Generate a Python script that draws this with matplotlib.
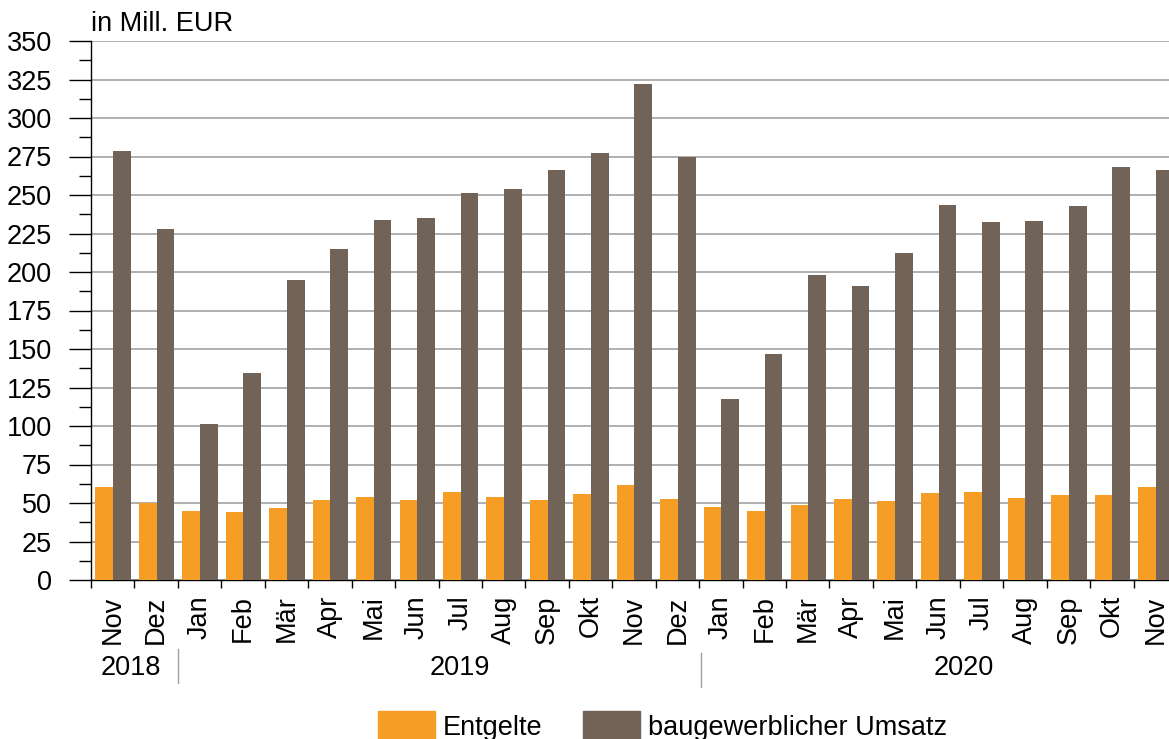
import matplotlib
matplotlib.use("Agg")
import matplotlib.pyplot as plt
from matplotlib.patches import Patch
import numpy as np

plt.rcParams['font.family'] = ['Liberation Sans', 'DejaVu Sans']

months = ["Nov", "Dez", "Jan", "Feb", "Mär", "Apr", "Mai", "Jun", "Jul", "Aug", "Sep", "Okt",
          "Nov", "Dez", "Jan", "Feb", "Mär", "Apr", "Mai", "Jun", "Jul", "Aug", "Sep", "Okt", "Nov"]
entgelte = [60.6, 50.0, 45.0, 44.4, 47.0, 52.0, 54.0, 52.0, 57.3, 54.0, 52.0, 56.0,
            61.9, 52.8, 47.6, 45.0, 49.0, 52.8, 51.5, 56.7, 57.3, 53.4, 55.4, 55.4, 60.6]
umsatz = [278.5, 228.0, 101.5, 134.5, 195.0, 215.0, 234.0, 235.0, 251.0, 254.0, 266.5, 277.0,
          322.0, 275.0, 117.5, 147.0, 198.0, 191.0, 212.5, 243.5, 232.5, 233.0, 243.0, 268.0, 266.5]
years = ["2018", "2019", "2020"]
year_pos = [0.42, 7.99, 19.59]
year_breaks = [1.5, 13.55]

c_orange = "#F59D24"
c_brown = "#716357"
FS = 19.5

fig = plt.figure(figsize=(11.69, 7.39), dpi=100)
ax = fig.add_axes([91/1169, 159/739, 1086/1169, 539/739])

x = np.arange(len(months))
w = 0.407
ax.bar(x - w/2 + 0.01, entgelte, width=w, color=c_orange, zorder=3, label="Entgelte")
ax.bar(x + w/2 + 0.01, umsatz, width=w, color=c_brown, zorder=3, label="baugewerblicher Umsatz")

ax.set_xlim(-0.5, len(months) - 0.5)
ax.set_ylim(0, 350)

# y axis
ax.set_yticks(np.arange(0, 351, 25))
ax.set_yticks(np.arange(12.5, 350, 25), minor=True)
ax.tick_params(axis='y', which='major', length=16, width=1, labelsize=FS, pad=12, color='black')
ax.tick_params(axis='y', which='minor', length=8.6, width=1, color='black')
ax.grid(axis='y', which='major', color='#9a9a9a', linewidth=1.1, zorder=0)

# x axis: ticks at boundaries, labels at centers
ax.set_xticks(np.arange(-0.5, len(months), 1.0))
ax.set_xticklabels([])
ax.set_xticks(x, minor=True)
ax.set_xticklabels(months, minor=True, rotation=90, fontsize=FS)
ax.tick_params(axis='x', which='major', length=6, width=1, direction='out', color='black')
ax.tick_params(axis='x', which='minor', length=0, pad=11)

for s in ['top', 'right']:
    ax.spines[s].set_visible(False)
ax.spines['left'].set_linewidth(1)
ax.spines['bottom'].set_linewidth(1)

# year labels
trans = ax.get_xaxis_transform()
for yl, yp in zip(years, year_pos):
    ax.text(yp, -0.163, yl, transform=trans, ha='center', va='center', fontsize=FS)
ax.plot([year_breaks[0]] * 2, [-0.128, -0.191], transform=trans, color='#a0a0a0', lw=1, clip_on=False)
ax.plot([year_breaks[1]] * 2, [-0.135, -0.198], transform=trans, color='#a0a0a0', lw=1, clip_on=False)

ax.text(0.0, 1.008, "in Mill. EUR", transform=ax.transAxes, fontsize=FS, ha='left', va='bottom')

handles = [Patch(color=c_orange), Patch(color=c_brown)]
fig.legend(handles, ["Entgelte", "baugewerblicher Umsatz"], loc='center left',
           bbox_to_anchor=(378/1169, 1 - 726/739), ncol=2, frameon=False, fontsize=FS,
           handlelength=2.1, handleheight=1.2, columnspacing=1.5, handletextpad=0.3,
           borderaxespad=0, borderpad=0)

fig.savefig("out.png", dpi=100)
